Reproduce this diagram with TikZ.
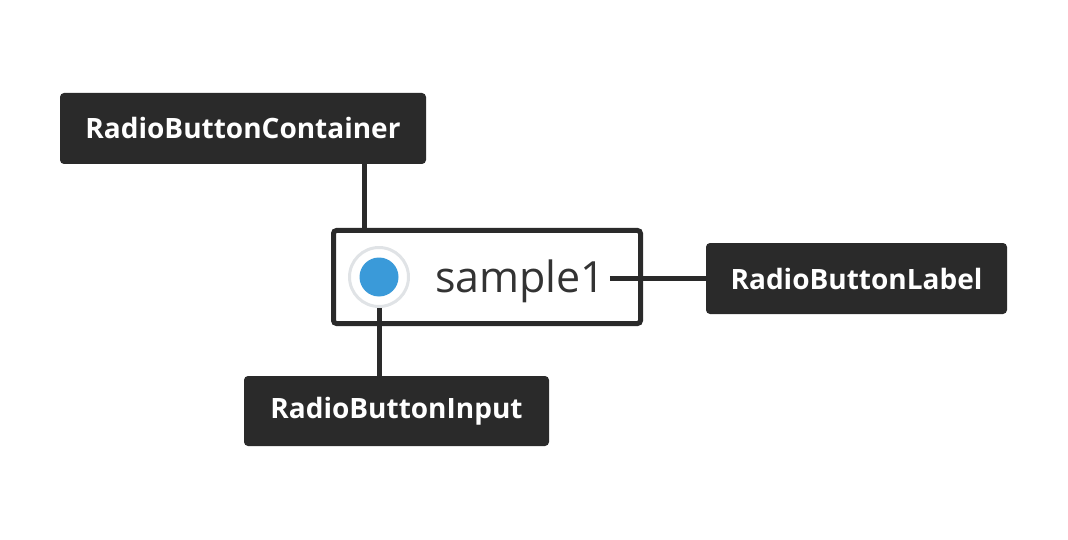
\documentclass[tikz,border=0pt]{standalone}
\usepackage{fontspec}
\setmainfont{Open Sans}
\usetikzlibrary{positioning,calc}
\definecolor{boxdark}{RGB}{42,42,42}
\definecolor{radioblue}{RGB}{58,154,217}
\definecolor{ringgray}{RGB}{224,227,230}
\definecolor{textgray}{RGB}{51,51,51}

\begin{document}
\begin{tikzpicture}[x=1pt, y=-1pt,
    tag/.style={fill=boxdark, text=white, rounded corners=4pt, inner sep=0pt,
        minimum height=71pt, font=\fontsize{28}{32}\selectfont\bfseries},
    link/.style={draw=boxdark, line width=5pt}]

    \useasboundingbox (0,0) rectangle (1068,540);

    % the radio button with its frame
    \node[draw=boxdark, line width=5pt, rounded corners=3pt, minimum width=307pt, minimum height=93pt, inner sep=0pt] (frame) at (487,277) {};
    \node[circle, fill=white, draw=ringgray, line width=3pt, minimum size=59pt, inner sep=0pt] (radio) at (379,277) {};
    \fill[radioblue] (radio.center) circle (19.5pt);
    \node[text=textgray, anchor=base west, inner sep=0pt, font=\fontsize{43}{48}\selectfont] (caption) at (435,292) {sample1};

    % labels
    \node[tag, minimum width=366pt] (container) at (243,128.5) {RadioButtonContainer};
    \node[tag, minimum width=301pt] (label) at (856.5,278.5) {RadioButtonLabel};
    \node[tag, minimum width=305pt, minimum height=70pt] (input) at (396.5,411) {RadioButtonInput};

    \draw[link] ([xshift=121pt]container.south) -- ([xshift=121pt]container.south |- frame.north);
    \draw[link] ([xshift=4pt]caption.east |- label.west) -- (label.west);
    \draw[link] (radio.south) -- (radio.south |- input.north);

\end{tikzpicture}
\end{document}
